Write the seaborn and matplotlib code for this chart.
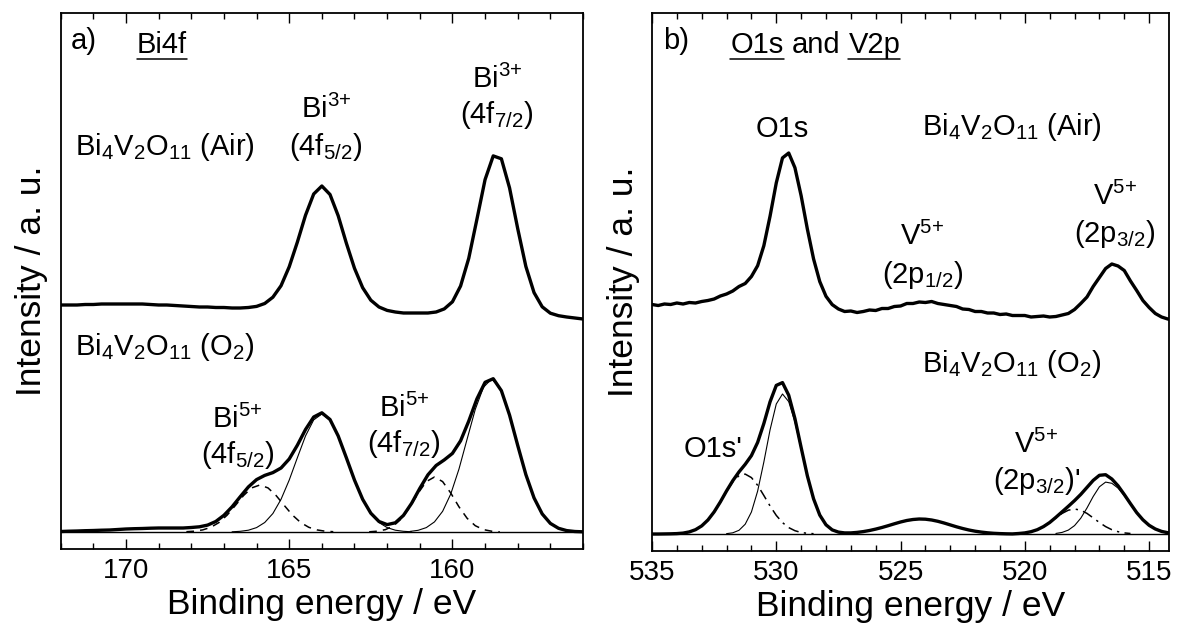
import numpy as np
import matplotlib
matplotlib.use("Agg")
import matplotlib.pyplot as plt
import seaborn as sns
from matplotlib.ticker import MultipleLocator
from matplotlib.lines import Line2D

# ---------------- data (intensity in a.u.) ----------------
# Panel a: Bi4f region
energy_a = [172.0, 171.75, 171.5, 171.25, 171.0, 170.75, 170.5, 170.25, 170.0, 169.75,
            169.5, 169.25, 169.0, 168.75, 168.5, 168.25, 168.0, 167.75, 167.5, 167.25,
            167.0, 166.75, 166.5, 166.25, 166.0, 165.75, 165.5, 165.25, 165.0, 164.75,
            164.5, 164.25, 164.0, 163.75, 163.5, 163.25, 163.0, 162.75, 162.5, 162.25,
            162.0, 161.75, 161.5, 161.25, 161.0, 160.75, 160.5, 160.25, 160.0, 159.75,
            159.5, 159.25, 159.0, 158.75, 158.5, 158.25, 158.0, 157.75, 157.5, 157.25,
            157.0, 156.75, 156.5, 156.25, 156.0]
air_a = [227, 227, 227, 227.5, 227.5, 228, 228, 228, 228, 228,
         228, 227.5, 227, 227, 226.5, 226, 225.5, 225, 225, 224.5,
         224.5, 224, 224, 224.5, 225.6, 228.5, 234.8, 246.3, 265.2, 289.9,
         316.8, 338, 346, 337.5, 316.3, 288.9, 263.7, 244.3, 231.8, 225,
         221.6, 220, 219, 219, 219, 219, 220, 223.1, 230.2, 246,
         273.7, 312.7, 352.4, 376.1, 373.2, 344.1, 303.4, 265.5, 239.4, 225.2,
         218.8, 216.3, 215, 214, 213]
o2_a = [0.5, 0.8, 1.0, 1.3, 1.5, 1.8, 2.0, 2.5, 3.0, 3.3,
        3.5, 3.8, 4.0, 4.0, 4.0, 4.0, 4.5, 5.2, 6.9, 10.5,
        16.7, 25.2, 35.3, 45.1, 52.4, 56.6, 59.4, 64.0, 73.0, 86.8,
        102.5, 115.0, 119.2, 112.5, 96.1, 74.3, 51.9, 32.7, 18.8, 10.5,
        7.4, 9.2, 16.6, 28.7, 43.6, 57.2, 66.5, 72.1, 78.6, 91.2,
        110.9, 133.1, 149.7, 153.3, 141.3, 116.9, 86.6, 57.4, 34.1, 18.1,
        8.6, 3.7, 1.4, 0.5, 0.2]
# fitted components (O2 sample)
bi3_52_e = [166.75, 166.5, 166.25, 166.0, 165.75, 165.5, 165.25, 165.0, 164.75, 164.5, 164.25, 164.0,
            163.75, 163.5, 163.25, 163.0, 162.75, 162.5, 162.25, 162.0, 161.75, 161.5, 161.25]
bi3_52_v = [0.2, 0.7, 1.8, 4.4, 9.5, 18.5, 32.7, 51.9, 74.3, 96.1, 112.1, 118,
            112.1, 96.1, 74.3, 51.9, 32.7, 18.5, 9.5, 4.4, 1.8, 0.7, 0.2]
bi5_52_e = [168.15, 167.9, 167.65, 167.4, 167.15, 166.9, 166.65, 166.4, 166.15, 165.9,
            165.65, 165.4, 165.15, 164.9, 164.65, 164.4, 164.15, 163.9, 163.65]
bi5_52_v = [0.3, 0.8, 2.1, 4.7, 9.5, 16.9, 26.5, 36.4, 44.1, 47,
            44.1, 36.4, 26.5, 16.9, 9.5, 4.7, 2.1, 0.8, 0.3]
bi3_72_e = [161.3, 161.05, 160.8, 160.55, 160.3, 160.05, 159.8, 159.55, 159.3, 159.05, 158.8,
            158.55, 158.3, 158.05, 157.8, 157.55, 157.3, 157.05, 156.8, 156.55, 156.3]
bi3_72_v = [0.6, 1.7, 4.4, 10.1, 20.7, 38.1, 62.9, 92.9, 122.6, 144.7, 153,
            144.7, 122.6, 92.9, 62.9, 38.1, 20.7, 10.1, 4.4, 1.7, 0.6]
bi5_72_e = [162.55, 162.3, 162.05, 161.8, 161.55, 161.3, 161.05, 160.8, 160.55,
            160.3, 160.05, 159.8, 159.55, 159.3, 159.05, 158.8, 158.55]
bi5_72_v = [0.2, 0.8, 2.4, 6.3, 13.7, 25.2, 38.9, 50.4, 55,
            50.4, 38.9, 25.2, 13.7, 6.3, 2.4, 0.8, 0.2]

# Panel b: O1s and V2p region
energy_b = [535.0, 534.75, 534.5, 534.25, 534.0, 533.75, 533.5, 533.25, 533.0, 532.75,
            532.5, 532.25, 532.0, 531.75, 531.5, 531.25, 531.0, 530.75, 530.5, 530.25,
            530.0, 529.75, 529.5, 529.25, 529.0, 528.75, 528.5, 528.25, 528.0, 527.75,
            527.5, 527.25, 527.0, 526.75, 526.5, 526.25, 526.0, 525.75, 525.5, 525.25,
            525.0, 524.75, 524.5, 524.25, 524.0, 523.75, 523.5, 523.25, 523.0, 522.75,
            522.5, 522.25, 522.0, 521.75, 521.5, 521.25, 521.0, 520.75, 520.5, 520.25,
            520.0, 519.75, 519.5, 519.25, 519.0, 518.75, 518.5, 518.25, 518.0, 517.75,
            517.5, 517.25, 517.0, 516.75, 516.5, 516.25, 516.0, 515.75, 515.5, 515.25,
            515.0, 514.75, 514.5, 514.25, 514.0]
air_b = [229.5, 228.5, 230, 229.5, 231, 230, 231.5, 231, 232.5, 233.5,
         235, 238, 240, 243, 247.5, 250.5, 257.5, 268.3, 288.3, 317.9,
         351.1, 376.1, 381, 366.3, 338.3, 305, 275.1, 252.4, 237.7, 229.4,
         225, 222.5, 223, 221.5, 222.5, 224, 223.5, 225.5, 225.5, 227.5,
         228, 230.5, 230.5, 232, 231.5, 232.5, 230.5, 229.5, 228.5, 227.5,
         225, 224.5, 222.5, 222.5, 221, 221, 219.5, 220, 218.5, 218.5,
         218.5, 217, 217.5, 218, 217, 217.5, 219, 220.5, 224.5, 230.5,
         237, 247.5, 256.5, 265.5, 270, 268, 263.5, 253, 243.5, 233.5,
         226.5, 220.5, 217, 215, 214]
o2_b = [0, 0, 0.1, 0.2, 0.4, 0.9, 2.1, 4.3, 8.1, 14,
        22.1, 32.1, 43.1, 53.3, 62.1, 69.7, 78.4, 91.6, 110.5, 132.2,
        148.6, 151.4, 138.8, 115.4, 86.5, 58.2, 35.2, 18.9, 9.2, 4.1,
        1.9, 1.1, 1.1, 1.6, 2.4, 3.5, 4.9, 6.5, 8.3, 10.2,
        12, 13.5, 14.5, 15, 14.8, 14, 12.7, 11, 9.1, 7.2,
        5.5, 4.0, 2.8, 1.9, 1.2, 0.7, 0.4, 0.2, 0.1, 0.5,
        1.1, 2.3, 4.3, 7.4, 11.5, 16.7, 22.2, 27.7, 33.4, 39.6,
        46.6, 53.6, 58.7, 59.3, 55, 48.2, 39.5, 30.3, 21.4, 14.2,
        8.7, 5.0, 2.6, 1.3, 0.6]
o1s_e = [532.0, 531.75, 531.5, 531.25, 531.0, 530.75, 530.5, 530.25, 530.0, 529.75, 529.5,
         529.25, 529.0, 528.75, 528.5, 528.25, 528.0, 527.75, 527.5, 527.25, 527.0]
o1s_v = [0.35, 1.2, 3.7, 9.8, 22, 42.9, 72, 104.2, 130, 140, 132.4,
         112.1, 85, 57.5, 34.9, 18.9, 9.2, 4.0, 1.6, 0.5, 0.1]
o1s2_e = [534.0, 533.75, 533.5, 533.25, 533.0, 532.75, 532.5, 532.25, 532.0, 531.75, 531.5, 531.25,
          531.0, 530.75, 530.5, 530.25, 530.0, 529.75, 529.5, 529.25, 529.0, 528.75, 528.5]
o1s2_v = [0.4, 0.9, 2.1, 4.3, 8.1, 14, 22.1, 32.1, 42.7, 52.1, 58.4, 59.9,
          56.4, 48.7, 38.5, 28, 18.6, 11.4, 6.4, 3.3, 1.5, 0.7, 0.3]
v32_e = [518.75, 518.5, 518.25, 518.0, 517.75, 517.5, 517.25, 517.0, 516.75, 516.5,
         516.25, 516.0, 515.75, 515.5, 515.25, 515.0, 514.75, 514.5, 514.25, 514.0]
v32_v = [0.55, 1.6, 3.9, 8.4, 15.8, 26, 37.5, 47.2, 51.9, 50.7,
         45.9, 38.4, 29.8, 21.4, 14.2, 8.7, 5.0, 2.6, 1.3, 0.6]
v32b_e = [520.25, 520.0, 519.75, 519.5, 519.25, 519.0, 518.75, 518.5, 518.25, 518.0,
          517.75, 517.5, 517.25, 517.0, 516.75, 516.5, 516.25, 516.0, 515.75]
v32b_v = [0.5, 1.1, 2.3, 4.3, 7.4, 11.5, 16.1, 20.6, 23.8, 25,
          23.8, 20.6, 16.1, 11.5, 7.4, 4.3, 2.3, 1.1, 0.5]

BASELINE = 0.0
xticks_a = [170, 165, 160]
xticks_b = [535, 530, 525, 520, 515]

# ---------------- style ----------------
sns.set_style("ticks")
plt.rcParams['font.family'] = ['Liberation Sans', 'DejaVu Sans']
plt.rcParams['mathtext.fontset'] = 'custom'
plt.rcParams['mathtext.rm'] = 'Liberation Sans'
plt.rcParams['mathtext.it'] = 'Liberation Sans:italic'
plt.rcParams['mathtext.bf'] = 'Liberation Sans:bold'
plt.rcParams['mathtext.sf'] = 'Liberation Sans'

W, H = 1177, 632
fig = plt.figure(figsize=(W / 100, H / 100), dpi=100)
fig.patch.set_facecolor('white')


def px_axes(l, r, t, b):
    return [l / W, (H - b) / H, (r - l) / W, (b - t) / H]


ax_a = fig.add_axes(px_axes(60.7, 583, 13, 549))
ax_b = fig.add_axes(px_axes(652, 1169, 13, 551))

THICK = 2.4
THIN = 0.8
DASH = (0, (5, 4))
DASHDOT = (0, (7, 3.5, 1.5, 3.5))
FS_TXT = 21


def line(ax, x, y, lw, ls='-'):
    sns.lineplot(x=np.asarray(x, float), y=np.asarray(y, float), ax=ax, color='black',
                 linewidth=lw, linestyle=ls, estimator=None, sort=False)


# panel a
line(ax_a, energy_a, air_a, THICK)
line(ax_a, energy_a, o2_a, THICK)
line(ax_a, bi3_52_e, bi3_52_v, THIN)
line(ax_a, bi3_72_e, bi3_72_v, THIN)
line(ax_a, bi5_52_e, bi5_52_v, 1.1, DASH)
line(ax_a, bi5_72_e, bi5_72_v, 1.1, DASH)
ax_a.axhline(BASELINE, color='black', lw=1.0)

# panel b
line(ax_b, energy_b, air_b, THICK)
line(ax_b, energy_b, o2_b, THICK)
line(ax_b, o1s_e, o1s_v, THIN)
line(ax_b, v32_e, v32_v, THIN)
line(ax_b, o1s2_e, o1s2_v, 1.1, DASHDOT)
line(ax_b, v32b_e, v32b_v, 1.1, DASHDOT)
ax_b.axhline(BASELINE, color='black', lw=1.0)

for ax, xl, ticks in ((ax_a, (172, 156), xticks_a), (ax_b, (535, 514.2), xticks_b)):
    ax.set_xlim(*xl)
    ax.set_xticks(ticks)
    ax.xaxis.set_minor_locator(MultipleLocator(1))
    ax.set_yticks([])
    ax.tick_params(axis='x', which='both', direction='in', top=True, bottom=True,
                   labelsize=20, pad=6.3, width=1.0, color='black', labelcolor='black')
    ax.tick_params(axis='x', which='major', length=7)
    ax.tick_params(axis='x', which='minor', length=4.3)
    for s in ax.spines.values():
        s.set_visible(True)
        s.set_linewidth(1.3)
        s.set_color('black')
    ax.set_xlabel("Binding energy / eV", fontsize=25.5, labelpad=3, color='black')
    ax.set_ylabel("Intensity / a. u.", fontsize=25.5, labelpad=9, color='black')
    ax.set_facecolor('white')

ax_a.set_ylim(-17, 519)
ax_b.set_ylim(-17, 521)

sub = lambda s: r"$\mathregular{_{" + s + "}}$"
sup = lambda s: r"$\mathregular{^{" + s + "}}$"
name = "Bi" + sub("4") + "V" + sub("2") + "O" + sub("11")
ion3 = "Bi" + sup("3{+}")
ion5 = "Bi" + sup("5{+}")
v5 = "V" + sup("5{+}")

kw = dict(fontsize=FS_TXT, color='black', va='baseline')
# panel a texts
ax_a.text(171.68, 483, "a)", ha='left', **kw)
t_bi4f = ax_a.text(169.66, 479, "Bi4f", ha='left', **kw)
ax_a.text(171.55, 377, name + " (Air)", ha='left', **kw)
ax_a.text(163.87, 414, ion3, ha='center', **kw)
ax_a.text(163.87, 377, "(4f" + sub("5/2") + ")", ha='center', **kw)
ax_a.text(158.63, 444, ion3, ha='center', **kw)
ax_a.text(158.63, 409, "(4f" + sub("7/2") + ")", ha='center', **kw)
ax_a.text(171.55, 177, name + " (O" + sub("2") + ")", ha='left', **kw)
ax_a.text(166.58, 104, ion5, ha='center', **kw)
ax_a.text(166.58, 69, "(4f" + sub("5/2") + ")", ha='center', **kw)
ax_a.text(161.49, 115, ion5, ha='center', **kw)
ax_a.text(161.49, 80, "(4f" + sub("7/2") + ")", ha='center', **kw)

# panel b texts
ax_b.text(534.57, 485, "b)", ha='left', **kw)
t_o1s = ax_b.text(531.85, 481, "O1s", ha='left', **kw)
space_pt = 0.278 * FS_TXT
t_and = ax_b.annotate("and", xy=(1, 0), xycoords=t_o1s, xytext=(space_pt, 0),
                      textcoords='offset points', ha='left', va='bottom',
                      fontsize=FS_TXT, color='black')
t_v2p = ax_b.annotate("V2p", xy=(1, 0), xycoords=t_and, xytext=(space_pt, 0),
                      textcoords='offset points', ha='left', va='bottom',
                      fontsize=FS_TXT, color='black')
ax_b.text(529.75, 397, "O1s", ha='center', **kw)
ax_b.text(524.12, 399, name + " (Air)", ha='left', **kw)
ax_b.text(524.12, 289, v5, ha='center', **kw)
ax_b.text(524.12, 251, "(2p" + sub("1/2") + ")", ha='center', **kw)
ax_b.text(516.39, 329, v5, ha='center', **kw)
ax_b.text(516.39, 292, "(2p" + sub("3/2") + ")", ha='center', **kw)
ax_b.text(524.12, 162, name + " (O" + sub("2") + ")", ha='left', **kw)
ax_b.text(532.53, 77, "O1s'", ha='center', **kw)
ax_b.text(519.54, 81, v5, ha='center', **kw)
ax_b.text(519.54, 45, "(2p" + sub("3/2") + ")'", ha='center', **kw)

# underlines
fig.canvas.draw()
renderer = fig.canvas.get_renderer()


def underline(txt, gap_px=0.5, lw=1.1):
    bb = txt.get_window_extent(renderer=renderer)
    inv = fig.transFigure.inverted()
    x0, y0 = inv.transform((bb.x0, bb.y0 + gap_px))
    x1, _ = inv.transform((bb.x1, bb.y0 + gap_px))
    fig.add_artist(Line2D([x0, x1], [y0, y0], transform=fig.transFigure,
                          color='black', lw=lw))


for t in (t_bi4f, t_o1s, t_v2p):
    underline(t)

fig.savefig("out.png", dpi=100, facecolor='white')
